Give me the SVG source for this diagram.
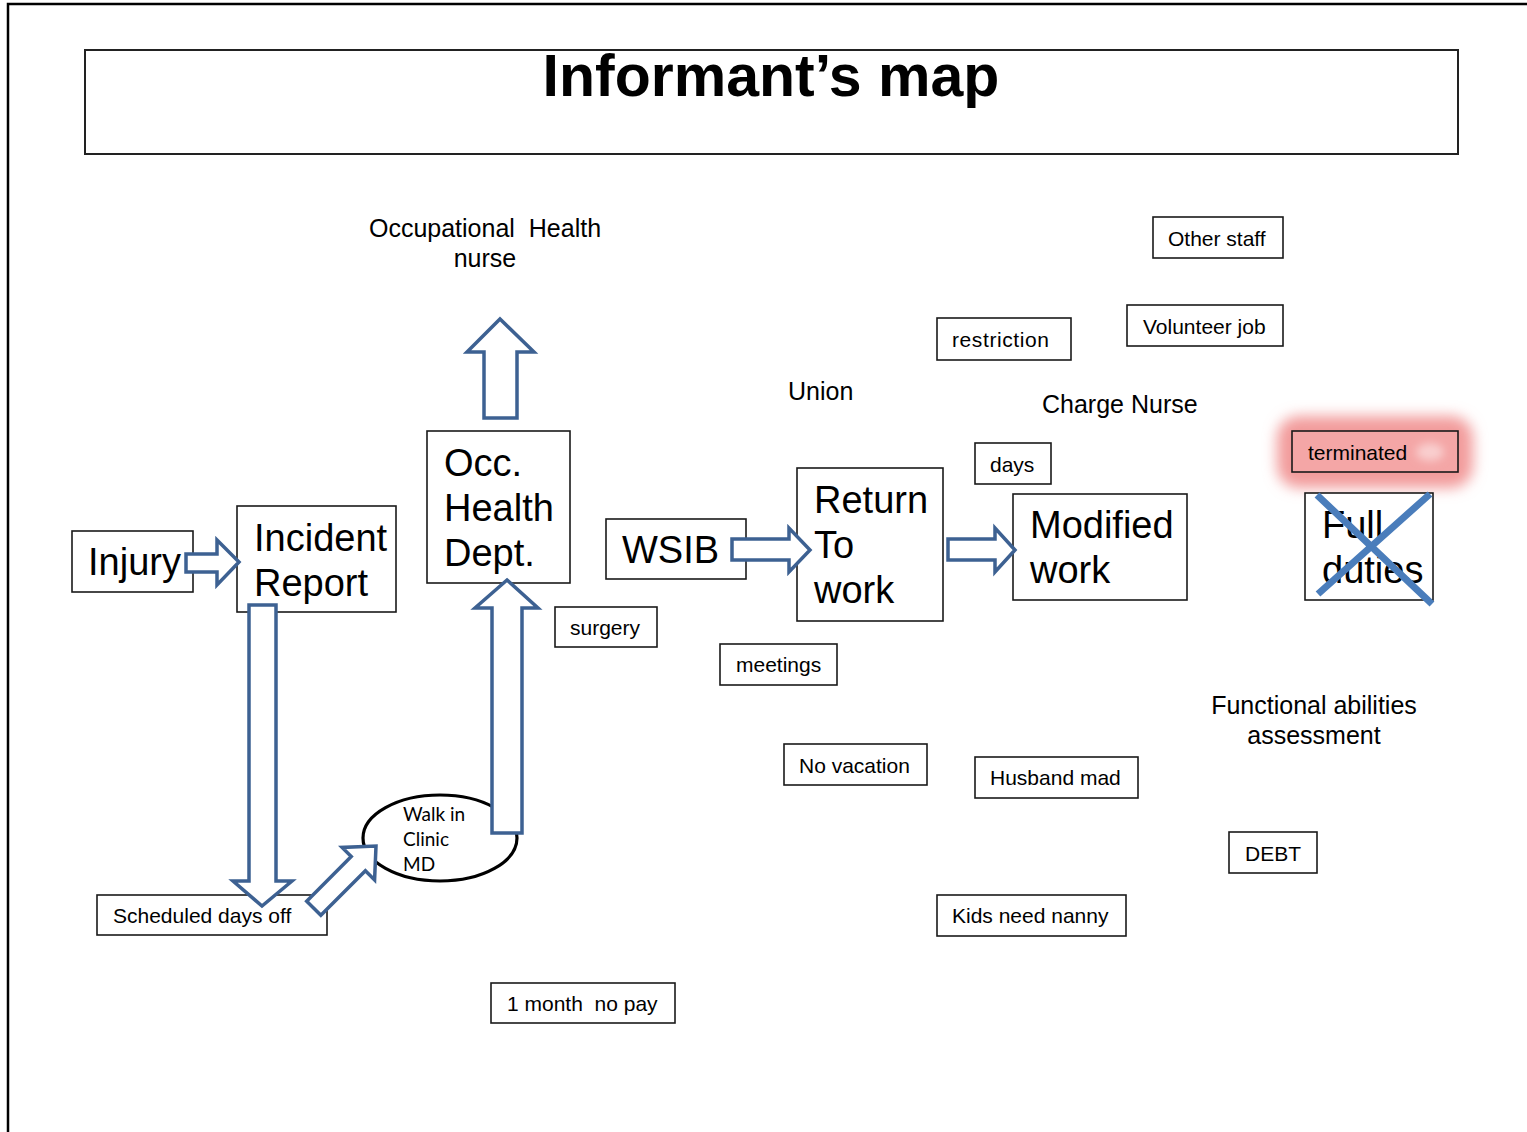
<svg xmlns="http://www.w3.org/2000/svg" width="1527" height="1132" viewBox="0 0 1527 1132">
  <style>
    .box { fill: #ffffff; stroke: #1a1a1a; stroke-width: 1.6; }
    .big { font-family: "Liberation Sans", Arial, sans-serif; font-size: 38px; fill: #000; }
    .small { font-family: "Liberation Sans", Arial, sans-serif; font-size: 21px; fill: #000; }
    .free { font-family: "Liberation Sans", Arial, sans-serif; font-size: 25px; fill: #000; }
    .clinic { font-family: Lato, "Open Sans", sans-serif; font-size: 19px; fill: #000; }
    .arrow { fill: #ffffff; stroke: #3d6192; stroke-width: 3.5; stroke-linejoin: miter; }
  </style>
  <defs>
    <filter id="glow" x="-30%" y="-80%" width="160%" height="260%">
      <feGaussianBlur stdDeviation="7"/>
    </filter>
    <filter id="soft" x="-50%" y="-50%" width="200%" height="200%">
      <feGaussianBlur stdDeviation="4"/>
    </filter>
  </defs>

  <rect width="1527" height="1132" fill="#ffffff"/>

  <!-- page frame -->
  <path d="M8,1132 V4 H1527" fill="none" stroke="#000" stroke-width="2.5"/>

  <!-- title -->
  <g id="title">
    <rect x="85" y="50" width="1373" height="104" fill="none" stroke="#222" stroke-width="2"/>
    <text x="771" y="96" text-anchor="middle" font-family="Liberation Sans, Arial, sans-serif" font-weight="bold" font-size="59">Informant’s map</text>
  </g>

  <!-- free labels -->
  <g id="occ-nurse">
    <text class="free" x="485" y="237" text-anchor="middle" xml:space="preserve">Occupational  Health</text>
    <text class="free" x="485" y="267" text-anchor="middle">nurse</text>
  </g>
  <g id="union"><text class="free" x="788" y="400">Union</text></g>
  <g id="charge-nurse"><text class="free" x="1042" y="413">Charge Nurse</text></g>
  <g id="functional">
    <text class="free" x="1314" y="714" text-anchor="middle">Functional abilities</text>
    <text class="free" x="1314" y="744" text-anchor="middle">assessment</text>
  </g>

  <!-- small boxed labels -->
  <g id="other-staff"><rect class="box" x="1153" y="217" width="130" height="41"/><text class="small" x="1168" y="246">Other staff</text></g>
  <g id="volunteer-job"><rect class="box" x="1127" y="305" width="156" height="41"/><text class="small" x="1143" y="334">Volunteer job</text></g>
  <g id="restriction"><rect class="box" x="937" y="318" width="134" height="42"/><text class="small" x="952" y="347" textLength="97" lengthAdjust="spacing">restriction</text></g>
  <g id="days"><rect class="box" x="975" y="443" width="76" height="41"/><text class="small" x="990" y="472">days</text></g>
  <g id="surgery"><rect class="box" x="555" y="607" width="102" height="40"/><text class="small" x="570" y="635">surgery</text></g>
  <g id="meetings"><rect class="box" x="720" y="644" width="117" height="41"/><text class="small" x="736" y="672">meetings</text></g>
  <g id="no-vacation"><rect class="box" x="784" y="744" width="143" height="41"/><text class="small" x="799" y="773">No vacation</text></g>
  <g id="husband-mad"><rect class="box" x="975" y="757" width="163" height="41"/><text class="small" x="990" y="785">Husband mad</text></g>
  <g id="debt"><rect class="box" x="1229" y="832" width="88" height="41"/><text class="small" x="1245" y="861">DEBT</text></g>
  <g id="kids-nanny"><rect class="box" x="937" y="895" width="189" height="41"/><text class="small" x="952" y="923">Kids need nanny</text></g>
  <g id="no-pay"><rect class="box" x="491" y="983" width="184" height="40"/><text class="small" x="507" y="1011" xml:space="preserve">1 month  no pay</text></g>
  <g id="scheduled-off"><rect class="box" x="97" y="895" width="230" height="40"/><text class="small" x="113" y="923">Scheduled days off</text></g>

  <!-- main flow nodes -->
  <g id="injury"><rect class="box" x="72" y="531" width="121" height="61"/><text class="big" x="88" y="575">Injury</text></g>
  <g id="incident-report">
    <rect class="box" x="237" y="506" width="159" height="106"/>
    <text class="big" x="254" y="551">Incident</text>
    <text class="big" x="254" y="596">Report</text>
  </g>
  <g id="occ-health-dept">
    <rect class="box" x="427" y="431" width="143" height="152"/>
    <text class="big" x="444" y="476">Occ.</text>
    <text class="big" x="444" y="521">Health</text>
    <text class="big" x="444" y="566">Dept.</text>
  </g>
  <g id="wsib"><rect class="box" x="606" y="519" width="140" height="60"/><text class="big" x="622" y="563">WSIB</text></g>
  <g id="return-to-work">
    <rect class="box" x="797" y="468" width="146" height="153"/>
    <text class="big" x="814" y="513">Return</text>
    <text class="big" x="814" y="558">To</text>
    <text class="big" x="814" y="603">work</text>
  </g>
  <g id="modified-work">
    <rect class="box" x="1013" y="494" width="174" height="106"/>
    <text class="big" x="1030" y="538">Modified</text>
    <text class="big" x="1030" y="583">work</text>
  </g>
  <g id="terminated">
    <rect x="1277" y="416" width="196" height="72" rx="22" fill="#f29b9b" filter="url(#glow)"/>
    <rect x="1292" y="431" width="166" height="41" fill="#f4a6a6" stroke="#1a1a1a" stroke-width="1.6"/>
    <ellipse cx="1430" cy="452" rx="14" ry="9" fill="#f9cfcf" filter="url(#soft)"/>
    <text class="small" x="1308" y="460">terminated</text>
  </g>
  <g id="full-duties">
    <rect class="box" x="1305" y="493" width="128" height="107"/>
    <text class="big" x="1322" y="538">Full</text>
    <text class="big" x="1322" y="583">duties</text>
    <path d="M1317,495 L1432,604 M1430,494 L1318,594" stroke="#4a7dbb" stroke-width="7" fill="none"/>
  </g>
  <g id="walk-in-clinic">
    <ellipse cx="440" cy="838" rx="77" ry="43" fill="#ffffff" stroke="#000" stroke-width="3.2"/>
    <text class="clinic" x="403" y="821">Walk in</text>
    <text class="clinic" x="403" y="846">Clinic</text>
    <text class="clinic" x="403" y="871">MD</text>
  </g>

  <!-- block arrows -->
  <g id="connectors">
    <polygon class="arrow" points="186,554 217,554 217,540 239,562 217,585 217,572 186,572"/>
    <polygon class="arrow" points="732,539 789,539 789,528 810,550 789,572 789,560 732,560"/>
    <polygon class="arrow" points="948,539 995,539 995,528 1015,550 995,572 995,560 948,560"/>
    <polygon class="arrow" points="484,418 484,352 467,352 500,319 534,352 517,352 517,418"/>
    <polygon class="arrow" points="249,605 276,605 276,881 292,881 262,906 233,881 249,881"/>
    <polygon class="arrow" points="492,833 492,608 475,608 507,580 538,608 522,608 522,833"/>
    <g transform="translate(376,846) rotate(-45)">
      <polygon class="arrow" points="-88,-10 -25,-10 -25,-23 0,0 -25,23 -25,10 -88,10"/>
    </g>
  </g>
</svg>
